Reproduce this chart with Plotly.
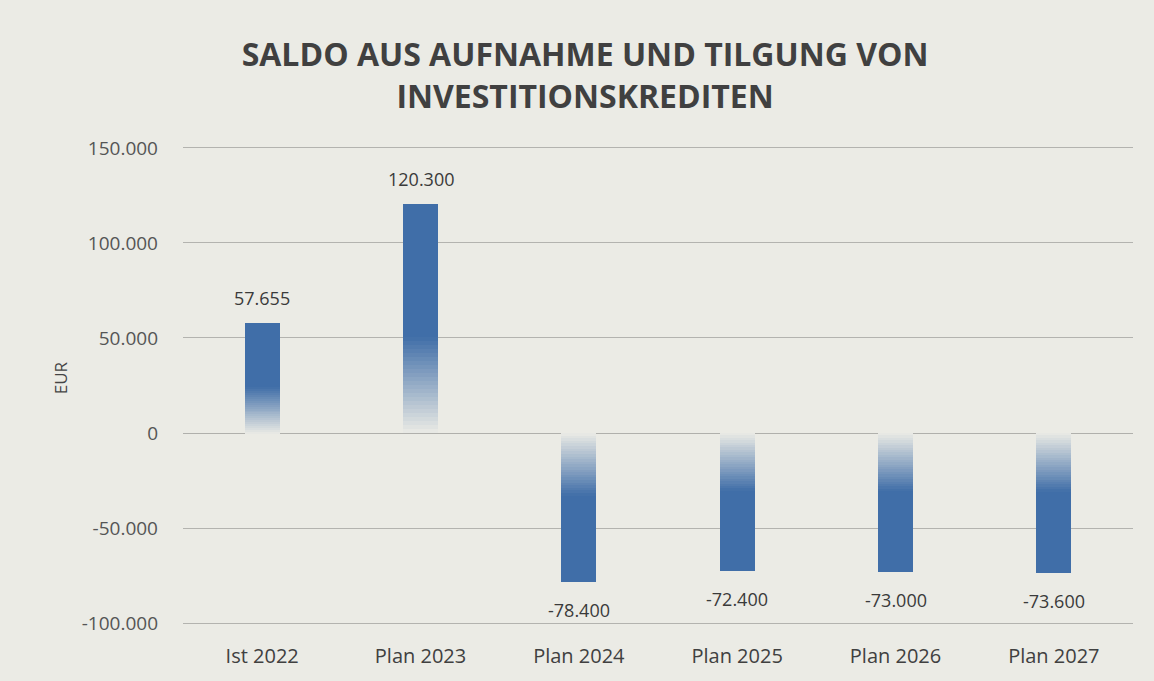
import plotly.graph_objects as go

categories = ["Ist 2022", "Plan 2023", "Plan 2024", "Plan 2025", "Plan 2026", "Plan 2027"]
values = [57655, 120300, -78400, -72400, -73000, -73600]
y_tickvals = [-100000, -50000, 0, 50000, 100000, 150000]
y_ticktext = ["-100.000", "-50.000", "0", "50.000", "100.000", "150.000"]

BG = (235, 235, 229)
BLUE = (64, 110, 168)
FADE = 0.42
STEPS = 24

def mix(t):
    r = [round(BG[k] + (BLUE[k] - BG[k]) * t) for k in range(3)]
    return f"rgb({r[0]},{r[1]},{r[2]})"

fig = go.Figure()
for i in range(STEPS):
    t = (i + 0.5) / STEPS
    fig.add_trace(go.Bar(
        x=categories, y=[v * FADE / STEPS for v in values],
        marker=dict(color=mix(t), line=dict(width=0)),
        width=0.22, showlegend=False, hoverinfo="skip"))
fig.add_trace(go.Bar(
    x=categories, y=[v * (1 - FADE) for v in values],
    marker=dict(color=mix(1.0), line=dict(width=0)),
    width=0.22, showlegend=False, customdata=values,
    hovertemplate="%{x}: %{customdata:,}<extra></extra>"))

for c, v in zip(categories, values):
    fig.add_annotation(x=c, y=v, text=f"{v:,}".replace(",", "."),
                       showarrow=False, yshift=25 if v > 0 else -28,
                       font=dict(family="Open Sans", size=18, color="#3a3a3a"))

fig.add_annotation(xref="paper", yref="paper", x=-0.1295, y=0.517, text="EUR",
                   textangle=-90, showarrow=False, xanchor="center", yanchor="middle",
                   font=dict(family="Open Sans", size=17, color="#444444"))

fig.update_layout(
    width=1154, height=681,
    barmode="relative", bargap=0,
    paper_bgcolor="rgb(235,235,229)", plot_bgcolor="rgb(235,235,229)",
    margin=dict(l=183, r=21, t=145, b=46),
    title=dict(text="SALDO AUS AUFNAHME UND TILGUNG VON<br>INVESTITIONSKREDITEN",
               x=0.507, xanchor="center", y=1 - 66 / 681, yanchor="middle", yref="container",
               font=dict(family="Open Sans", size=32, color="#404040", weight="bold")),
    xaxis=dict(showgrid=False, showline=False, ticks="", ticklabelstandoff=16,
               tickfont=dict(family="Open Sans", size=20, color="#404040")),
    yaxis=dict(range=[-101500, 151500], tickvals=y_tickvals, ticktext=y_ticktext,
               showgrid=True, gridcolor="#b3b3af", gridwidth=1,
               zeroline=True, zerolinecolor="#b0b0ac", zerolinewidth=1,
               ticks="", ticklabelstandoff=24,
               tickfont=dict(family="Open Sans", size=19, color="#555555")),
)

fig.write_html("out.html", config={"displayModeBar": False},
               post_script="document.body.style.margin='0';")
